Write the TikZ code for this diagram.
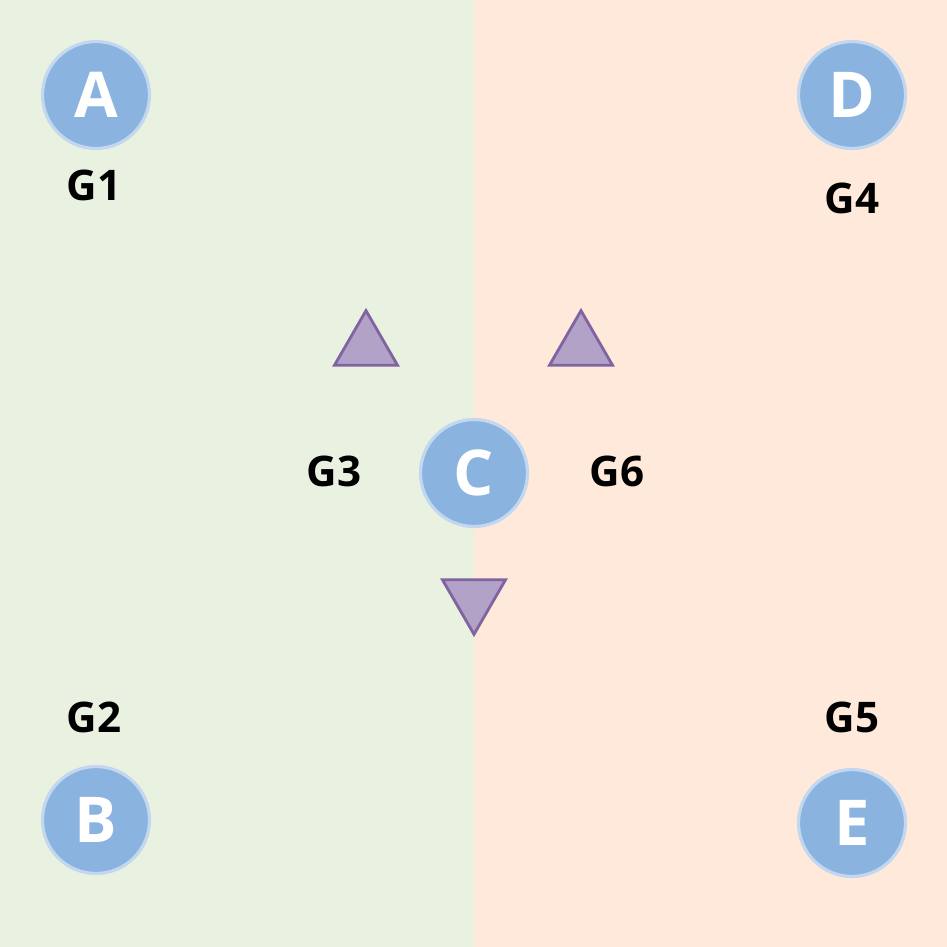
\documentclass[tikz,border=0pt]{standalone}
\usepackage{fontspec}
\setmainfont{Open Sans}
\usepackage{tikz}
\usetikzlibrary{shapes.geometric}
\definecolor{leftbg}{HTML}{E9F1E0}
\definecolor{rightbg}{HTML}{FFE9DA}
\definecolor{vtxfill}{HTML}{8AB3E0}
\definecolor{vtxline}{HTML}{C3D8F0}
\definecolor{trifill}{HTML}{B3A2C8}
\definecolor{triline}{HTML}{8064A2}

\begin{document}
\begin{tikzpicture}[
  vtx/.style={circle, fill=vtxfill, draw=vtxline, line width=0.9pt, minimum size=1.07cm, inner sep=0pt, text=white, font=\fontsize{18}{18}\selectfont\bfseries},
  glab/.style={font=\fontsize{12}{12}\selectfont\bfseries, text=black},
  tri/.style={regular polygon, regular polygon sides=3, fill=trifill, draw=triline, line width=0.8pt, minimum size=0.727cm, inner sep=0pt}]
\fill[leftbg]  (0,0) rectangle (4.74,-9.47);
\fill[rightbg] (4.74,0) rectangle (9.47,-9.47);
\useasboundingbox (0,0) rectangle (9.47,-9.47);
\node[vtx] (A) at (0.96,-0.95) {A};
\node[vtx] (D) at (8.52,-0.95) {D};
\node[vtx] (C) at (4.74,-4.73) {C};
\node[vtx] (B) at (0.96,-8.20) {B};
\node[vtx] (E) at (8.52,-8.23) {E};
\node[glab] (g1) at (0.94,-1.85) {G1};
\node[glab] (g4) at (8.52,-1.98) {G4};
\node[glab] (g3) at (3.34,-4.71) {G3};
\node[glab] (g6) at (6.17,-4.71) {G6};
\node[glab] (g2) at (0.94,-7.17) {G2};
\node[glab] (g5) at (8.52,-7.17) {G5};
\node[tri] (t1) at (3.66,-3.47) {};
\node[tri] (t2) at (5.81,-3.47) {};
\node[tri, shape border rotate=180] (t3) at (4.74,-5.98) {};
\end{tikzpicture}
\end{document}
